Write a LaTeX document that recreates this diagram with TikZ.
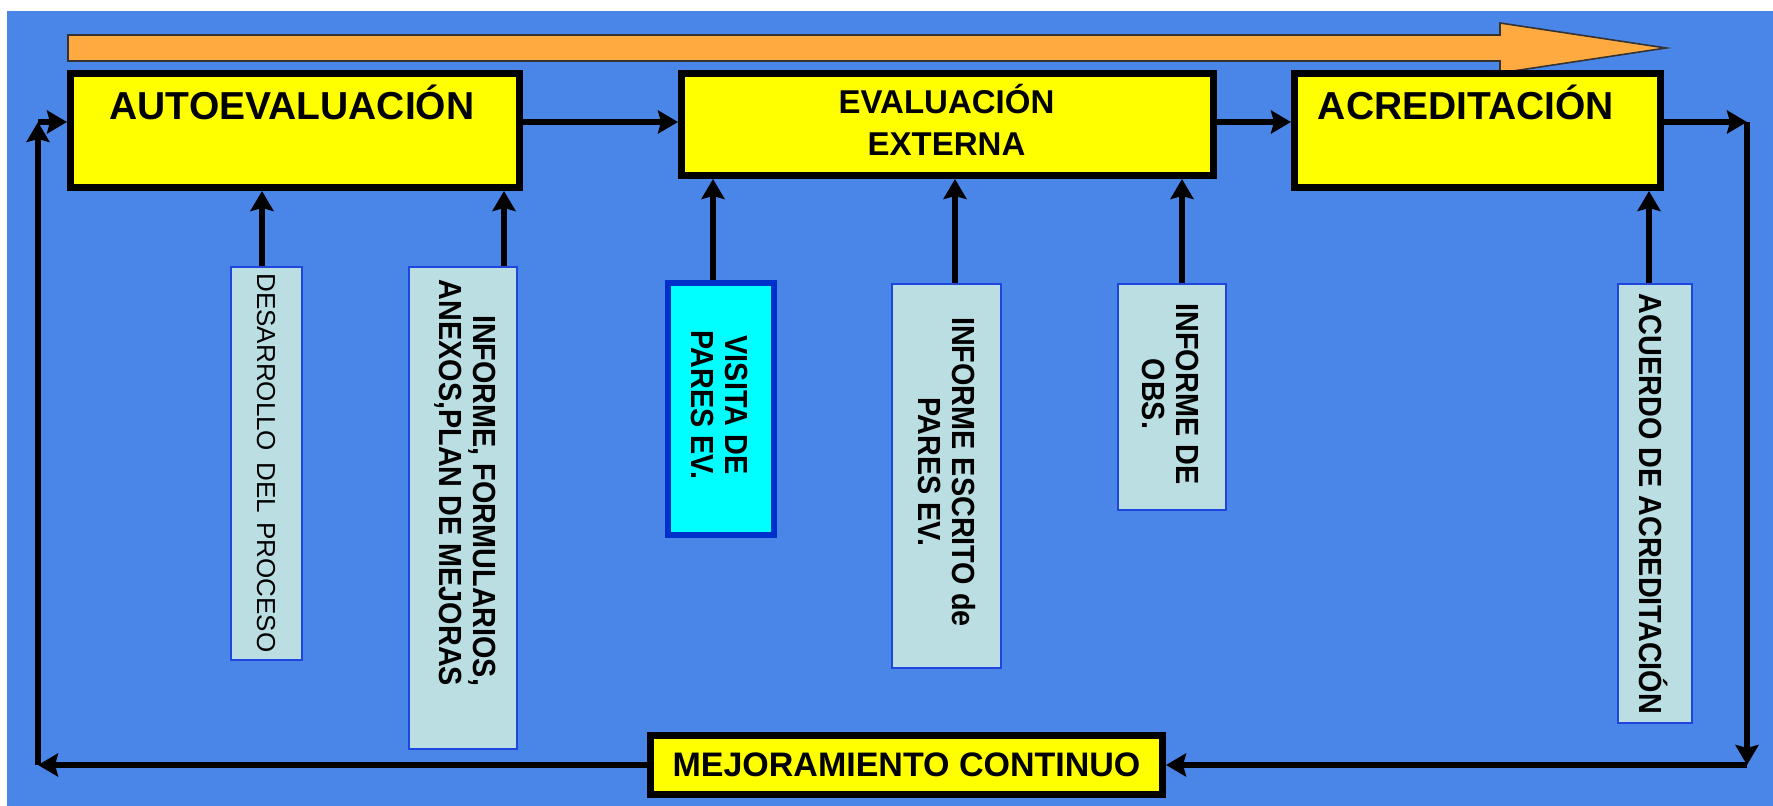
\documentclass[tikz,border=0pt]{standalone}
\usepackage{fontspec}
\setmainfont{Liberation Sans}
\newfontfamily\cond[FakeStretch=0.9]{Liberation Sans}
\usetikzlibrary{arrows.meta,calc}
\definecolor{bgblue}{RGB}{74,134,232}
\definecolor{boxyellow}{RGB}{255,255,0}
\definecolor{orng}{RGB}{255,170,64}
\definecolor{pale}{RGB}{186,222,226}
\definecolor{paleedge}{RGB}{30,70,220}
\definecolor{visfill}{RGB}{0,255,255}
\definecolor{visedge}{RGB}{0,48,204}
\begin{document}
\begin{tikzpicture}[x=0.5pt,y=-0.5pt,
  bigbox/.style={draw=black,fill=boxyellow,line width=3.5pt,inner sep=0pt},
  smallbox/.style={draw=paleedge,fill=pale,line width=1pt,inner sep=0pt},
  visbox/.style={draw=visedge,fill=visfill,line width=3pt,inner sep=0pt},
  head/.style={font=\bfseries\fontsize{19.5pt}{22pt}\selectfont,inner sep=0pt,anchor=base},
  vtext/.style={rotate=-90,font=\cond\bfseries\fontsize{16pt}{17pt}\selectfont,inner sep=0pt},
  arr/.style={line width=3pt,-{Stealth[length=10pt,width=11.5pt,inset=1.5pt]}},
]
\useasboundingbox (0,0) rectangle (1773,806);
\fill[white] (0,0) rectangle (1773,806);
\fill[bgblue] (7,11) rectangle (1773,806);

% orange progress arrow
\draw[fill=orng,draw=black!80,line width=0.8pt]
  (68,35) -- (1500,35) -- (1500,23) -- (1666,48) -- (1500,73) -- (1500,61) -- (68,61) -- cycle;

% main boxes
\node[bigbox,minimum width=224.5pt,minimum height=57pt] (auto) at (295,130.5) {};
\node[head] (autoT) at (292,120) {AUTOEVALUACIÓN};
\node[bigbox,minimum width=266pt,minimum height=51pt] (ext) at (947.5,124.5) {};
\node[align=center,inner sep=0pt,font=\bfseries\fontsize{16.5pt}{21pt}\selectfont] (extT) at (946.5,120) {EVALUACIÓN\\EXTERNA};
\node[bigbox,minimum width=183pt,minimum height=57pt] (acr) at (1477.5,130.5) {};
\node[head] (acrT) at (1466,120) {ACREDITACIÓN};
\node[bigbox,minimum width=256pt,minimum height=29.5pt,
      font=\bfseries\fontsize{17pt}{20pt}\selectfont] (mej) at (906.5,765) {MEJORAMIENTO CONTINUO};

% small boxes
\node[smallbox,minimum width=35.5pt,minimum height=196.5pt] (des) at (266.5,463.5) {};
\node[vtext,font=\fontsize{13pt}{14pt}\selectfont] (desT) at (266,463) {DESARROLLO\hspace{0.45em}DEL\hspace{0.35em}PROCESO};
\node[smallbox,minimum width=54pt,minimum height=241pt] (inf) at (463,508) {};
\node[vtext,align=right] (infT) at (465,483) {INFORME, FORMULARIOS,\\ANEXOS,PLAN DE MEJORAS};
\node[visbox,minimum width=53pt,minimum height=126pt] (vis) at (721,409) {};
\node[vtext,align=center] (visT) at (720,405) {VISITA DE\\PARES EV.};
\node[smallbox,minimum width=54.5pt,minimum height=192pt] (esc) at (946.5,476) {};
\node[vtext,align=center] (escT) at (947,472) {INFORME ESCRITO de\\PARES EV.};
\node[smallbox,minimum width=54pt,minimum height=113pt] (obs) at (1172,397) {};
\node[vtext,align=center] (obsT) at (1171,394) {INFORME DE\\OBS.};
\node[smallbox,minimum width=37pt,minimum height=219.5pt] (acu) at (1655,503.5) {};
\node[vtext] (acuT) at (1654,504) {ACUERDO DE ACREDITACIÓN};

% vertical feed arrows
\path ([xshift=-2.25pt]des.north) coordinate (d1);
\path ([xshift=20.5pt]inf.north) coordinate (d2);
\path ([xshift=-4pt]vis.north) coordinate (d3);
\path ([xshift=4.25pt]esc.north) coordinate (d4);
\path ([xshift=5pt]obs.north) coordinate (d5);
\path ([xshift=-3pt]acu.north) coordinate (d6);
\draw[arr] (d1) -- (d1 |- auto.south);
\draw[arr] (d2) -- (d2 |- auto.south);
\draw[arr] (d3) -- (d3 |- ext.south);
\draw[arr] (d4) -- (d4 |- ext.south);
\draw[arr] (d5) -- (d5 |- ext.south);
\draw[arr] (d6) -- (d6 |- acr.south);

% cycle
\coordinate (tl) at (38,122);
\coordinate (tr) at (1747,122);
\coordinate (br) at (1747,765);
\coordinate (bl) at (38,765);
\draw[arr] (auto.east |- tl) -- (ext.west |- tl);
\draw[arr] (ext.east |- tl) -- (acr.west |- tl);
\draw[arr] (acr.east |- tl) -- (tr);
\draw[arr] (tr) -- (br);
\draw[arr] (br) -- (mej.east);
\draw[arr] (mej.west) -- (bl);
\draw[arr] (bl) -- (tl);
\draw[arr] (tl) -- (auto.west |- tl);
\end{tikzpicture}
\end{document}
